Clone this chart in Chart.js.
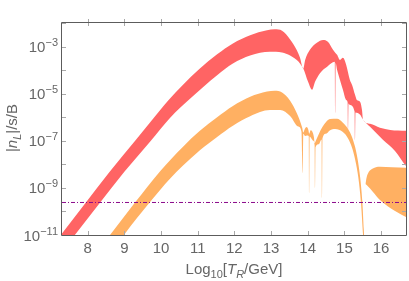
<!DOCTYPE html>
<html>
<head>
<meta charset="utf-8">
<script src="https://cdn.jsdelivr.net/npm/chart.js@4.4.1/dist/chart.umd.min.js"></script>
<style>
  html, body { margin: 0; padding: 0; background: #fff; }
</style>
</head>
<body>
<canvas id="chart" width="409" height="281"></canvas>
<script>
const xTicks = [8, 9, 10, 11, 12, 13, 14, 15, 16];
const yTickExps = [-11, -10, -9, -8, -7, -6, -5, -4, -3, -2];
const yLabelExps = [-11, -9, -7, -5, -3];

// values are log10(|n_L|/s/B)
const redUpperX = [7.10, 7.27, 7.93, 8.60, 9.30, 9.70, 10.19, 10.60, 11.06, 11.53, 11.96, 12.43, 12.89, 13.10, 13.30, 13.52, 13.70, 13.79, 13.85, 13.88,
  13.93, 14.06, 14.25, 14.42, 14.55, 14.69, 14.75, 14.80, 14.88, 14.96, 15.05, 15.15, 15.21, 15.29, 15.34, 15.43, 15.48, 15.51,
  15.70, 15.97, 16.25, 16.68, 16.80];
const redUpperY = [-11.34, -11.00, -9.66, -8.32, -6.99, -6.23, -5.30, -4.62, -3.93, -3.33, -2.87, -2.52, -2.31, -2.27, -2.33, -2.70, -3.15, -3.48, -3.86, -3.93,
  -3.57, -3.14, -2.84, -2.72, -2.80, -3.14, -3.27, -3.35, -3.57, -3.48, -3.78, -4.42, -4.63, -5.05, -5.27, -5.35, -5.69, -6.11,
  -6.28, -6.45, -6.54, -6.58, -6.59];
const redLowerX = [7.45, 7.65, 8.34, 9.00, 9.70, 10.25, 10.79, 11.53, 11.96, 12.43, 12.97, 13.30, 13.52, 13.74, 13.85, 13.88,
  14.01, 14.12, 14.20, 14.34, 14.53, 14.738, 14.75, 14.762, 14.80, 14.88, 14.96, 15.05, 15.088, 15.10, 15.112, 15.15, 15.278, 15.29, 15.302,
  15.43, 15.51, 15.70, 16.05, 16.38, 16.68, 16.80];
const redLowerY = [-11.38, -11.00, -9.62, -8.32, -7.04, -6.02, -5.22, -4.22, -3.72, -3.38, -3.22, -3.25, -3.38, -3.63, -3.86, -3.93,
  -4.50, -4.84, -4.50, -4.12, -3.86, -3.65, -5.82, -3.70, -3.99, -4.42, -4.84, -5.27, -5.38, -6.54, -5.42, -5.48, -5.76, -6.96, -5.80,
  -5.90, -6.11, -6.41, -6.96, -7.43, -8.07, -8.28];

const orangeUpperX = [8.45, 8.61, 9.29, 9.97, 10.60, 11.06, 11.53, 11.96, 12.43, 12.89, 13.10, 13.30, 13.52, 13.71, 13.85, 13.88,
  13.92, 13.97, 14.02, 14.04, 14.08, 14.12, 14.17, 14.19, 14.22, 14.30, 14.40, 14.50, 14.61, 14.80, 14.96, 15.10, 15.21, 15.34, 15.43,
  15.49, 15.53, 15.55];
const orangeUpperY = [-11.33, -11.00, -9.62, -8.30, -7.25, -6.58, -6.00, -5.52, -5.13, -4.91, -4.88, -4.95, -5.30, -5.85, -6.45, -6.65,
  -6.50, -6.42, -6.55, -6.70, -6.55, -6.60, -6.85, -7.10, -7.00, -6.72, -6.42, -6.20, -6.08, -6.07, -6.24, -6.50, -6.85, -7.60, -8.55,
  -9.60, -10.80, -11.40];
const orangeLowerX = [8.85, 8.99, 9.70, 10.25, 10.60, 11.06, 11.53, 11.96, 12.43, 12.97, 13.25, 13.52, 13.74, 13.83, 13.86, 13.88,
  13.93, 13.98, 14.028, 14.04, 14.052, 14.10, 14.15, 14.188, 14.20, 14.212, 14.30, 14.378, 14.39, 14.402, 14.50, 14.60, 14.75, 14.95,
  15.10, 15.22, 15.32, 15.40, 15.46, 15.51, 15.53];
const orangeLowerY = [-11.33, -11.00, -9.60, -8.60, -8.05, -7.40, -6.84, -6.36, -5.96, -5.70, -5.70, -5.95, -6.40, -6.62, -8.37, -6.70,
  -6.80, -6.78, -6.80, -9.22, -6.82, -6.90, -7.00, -7.20, -9.00, -7.28, -7.15, -6.95, -9.43, -6.90, -6.70, -6.56, -6.50, -6.62,
  -6.90, -7.35, -8.00, -8.80, -9.80, -11.00, -11.40];

const orangeTailUpperX = [15.58, 15.60, 15.64, 15.75, 15.97, 16.30, 16.68, 16.80];
const orangeTailUpperY = [-8.80, -8.60, -8.40, -8.20, -8.10, -8.12, -8.15, -8.16];
const orangeTailLowerX = [15.58, 15.62, 15.78, 15.97, 16.25, 16.68, 16.80];
const orangeTailLowerY = [-8.85, -8.90, -9.17, -9.51, -9.85, -10.24, -10.35];

const observed = 2.4e-10;

function band(ux, uy, lx, ly) {
  const pts = ux.map((x, i) => ({ x: x, y: Math.pow(10, uy[i]) }));
  for (let i = lx.length - 1; i >= 0; i--) {
    pts.push({ x: lx[i], y: Math.pow(10, ly[i]) });
  }
  return pts;
}

function bandDataset(points, color, order) {
  return {
    data: points,
    fill: 'shape',
    backgroundColor: color,
    borderColor: 'rgba(0,0,0,0)',
    borderWidth: 0,
    pointRadius: 0,
    cubicInterpolationMode: 'monotone',
    order: order,
  };
}

const textColor = '#666666';
const family = '"Liberation Sans", Arial, sans-serif';

// draw a run of text pieces with their own font and baseline shift
function drawRun(ctx, parts, x, y, align) {
  let width = 0;
  parts.forEach(p => { ctx.font = p.font; width += ctx.measureText(p.t).width; });
  let cx = align === 'center' ? x - width / 2 : (align === 'right' ? x - width : x);
  parts.forEach(p => {
    ctx.font = p.font;
    ctx.fillText(p.t, cx, y + (p.dy || 0));
    cx += ctx.measureText(p.t).width;
  });
}

const framePlugin = {
  id: 'framePlugin',
  afterDraw(chart) {
    const { ctx, chartArea: a } = chart;
    const xs = chart.scales.x;
    const ys = chart.scales.y;
    ctx.save();

    ctx.strokeStyle = '#a8a8a8';
    ctx.lineWidth = 1;
    ctx.beginPath();
    xTicks.forEach(v => {
      const px = Math.round(xs.getPixelForValue(v)) + 0.5;
      ctx.moveTo(px, a.bottom + 1);
      ctx.lineTo(px, a.bottom - 4);
      ctx.moveTo(px, a.top - 3);
      ctx.lineTo(px, a.top + 4);
    });
    yTickExps.forEach(e => {
      const py = Math.round(ys.getPixelForValue(Math.pow(10, e))) + 0.5;
      ctx.moveTo(a.left, py);
      ctx.lineTo(a.left + 4, py);
      ctx.moveTo(a.right, py);
      ctx.lineTo(a.right - 4, py);
    });
    ctx.stroke();

    ctx.strokeStyle = '#5c5c5c';
    ctx.beginPath();
    ctx.rect(a.left - 0.5, a.top + 0.5, a.right - a.left + 1, a.bottom - a.top);
    ctx.stroke();

    ctx.fillStyle = textColor;
    ctx.textBaseline = 'alphabetic';
    ctx.textAlign = 'left';
    const big = '15px ' + family;
    const small = '11px ' + family;

    xTicks.forEach(v => {
      drawRun(ctx, [{ t: String(v), font: big }], xs.getPixelForValue(v), 253, 'center');
    });
    yLabelExps.forEach(e => {
      const py = ys.getPixelForValue(Math.pow(10, e));
      drawRun(ctx, [{ t: '10', font: big, dy: 5.5 }, { t: '\u2212' + Math.abs(e), font: small, dy: -0.5 }], 58, py, 'right');
    });

    drawRun(ctx, [
      { t: 'Log', font: big },
      { t: '10', font: small, dy: 3.5 },
      { t: '[', font: big },
      { t: 'T', font: 'italic ' + big },
      { t: 'R', font: 'italic ' + small, dy: 3.5 },
      { t: '/GeV]', font: big },
    ], (a.left + a.right) / 2, 274, 'center');

    ctx.translate(17, 128);
    ctx.rotate(-Math.PI / 2);
    drawRun(ctx, [
      { t: '|', font: big },
      { t: 'n', font: 'italic ' + big },
      { t: 'L', font: 'italic ' + small, dy: 3.5 },
      { t: '|/s/B', font: big },
    ], 0, 0, 'center');

    ctx.restore();
  },
};

new Chart(document.getElementById('chart'), {
  type: 'line',
  data: {
    datasets: [
      {
        data: [{ x: 7.30, y: observed }, { x: 16.68, y: observed }],
        borderColor: '#8b0a8b',
        borderWidth: 1,
        borderDash: [4, 2, 1, 2],
        pointRadius: 0,
        fill: false,
        order: 0,
      },
      bandDataset(band(orangeUpperX, orangeUpperY, orangeLowerX, orangeLowerY), '#ffb062', 1),
      bandDataset(band(orangeTailUpperX, orangeTailUpperY, orangeTailLowerX, orangeTailLowerY), '#ffb062', 2),
      bandDataset(band(redUpperX, redUpperY, redLowerX, redLowerY), '#ff6464', 3),
    ],
  },
  options: {
    responsive: false,
    animation: false,
    devicePixelRatio: 1,
    layout: { padding: { left: 62, right: 3, top: 22, bottom: 46 } },
    plugins: { legend: { display: false }, tooltip: { enabled: false } },
    scales: {
      x: { type: 'linear', min: 7.30, max: 16.68, display: false },
      y: { type: 'logarithmic', min: 1e-11, max: Math.pow(10, -1.96), display: false },
    },
  },
  plugins: [framePlugin],
});
</script>
</body>
</html>
